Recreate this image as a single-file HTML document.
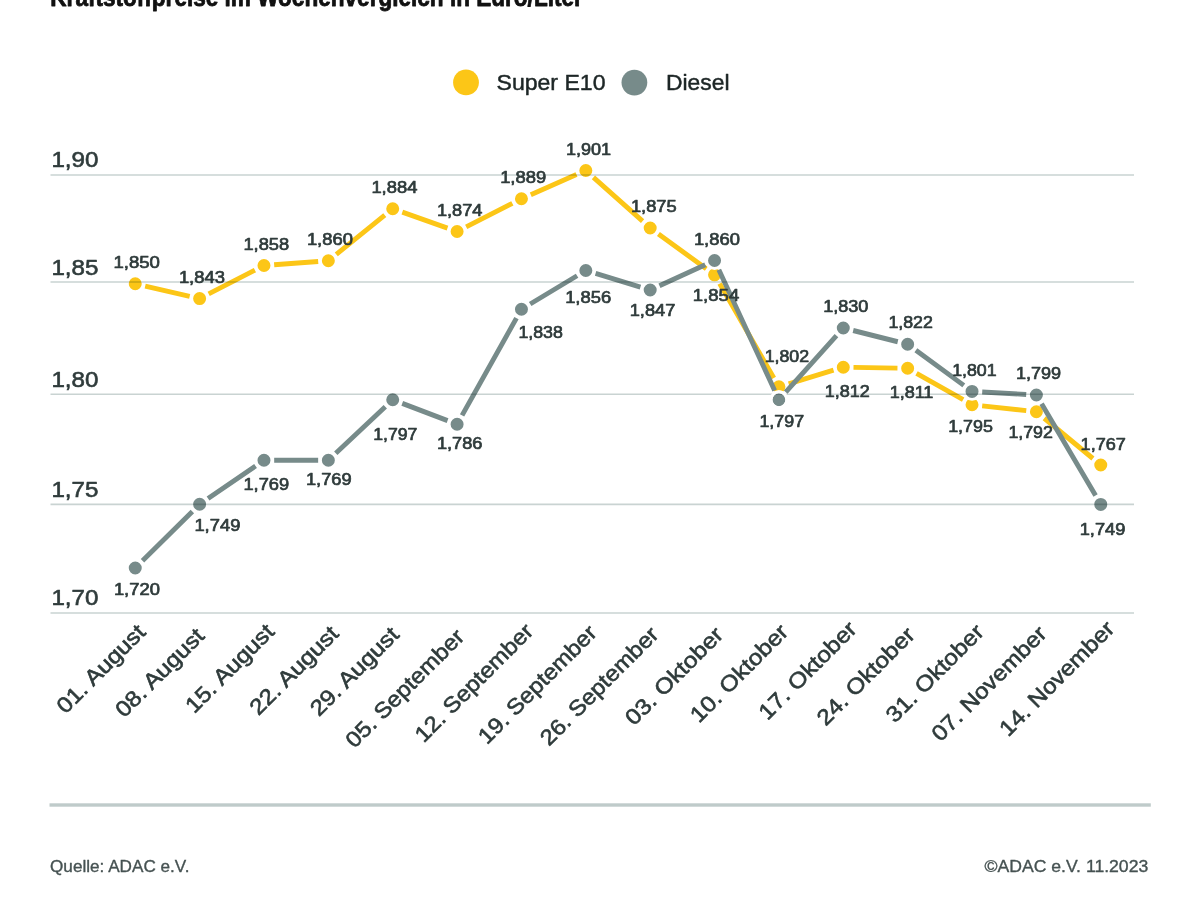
<!DOCTYPE html>
<html lang="de"><head><meta charset="utf-8"><title>Kraftstoffpreise im Wochenvergleich</title>
<style>html,body{margin:0;padding:0;background:#fff;}body{width:1200px;height:900px;overflow:hidden;}svg{display:block;}text{font-family:"Liberation Sans",sans-serif;stroke-linejoin:round;}.t{stroke:#2f3b3b;stroke-width:.6px}.d{stroke:#2f3b3b;stroke-width:.7px}.f{stroke:#465252;stroke-width:.35px}.l{stroke:#1d2626;stroke-width:.45px}</style></head><body>
<svg width="1200" height="900" viewBox="0 0 1200 900">
<rect width="1200" height="900" fill="#fff"/>
<text x="50.3" y="5.8" font-size="25" font-weight="bold" fill="#111" stroke="#111" stroke-width=".8" textLength="532.5" lengthAdjust="spacingAndGlyphs">Kraftstoffpreise im Wochenvergleich in Euro/Liter</text>
<circle cx="466" cy="82.4" r="12.9" fill="#fcc617"/>
<text class="l" x="496.5" y="89.7" font-size="21.7" fill="#1d2626" textLength="109" lengthAdjust="spacingAndGlyphs">Super E10</text>
<circle cx="634.4" cy="82.6" r="12.9" fill="#778b8a"/>
<text class="l" x="666" y="89.7" font-size="21.7" fill="#1d2626" textLength="63.5" lengthAdjust="spacingAndGlyphs">Diesel</text>
<text class="t" x="51.4" y="167" font-size="22" fill="#2f3b3b" textLength="47" lengthAdjust="spacingAndGlyphs">1,90</text>
<text class="t" x="51.4" y="274.5" font-size="22" fill="#2f3b3b" textLength="47" lengthAdjust="spacingAndGlyphs">1,85</text>
<text class="t" x="51.4" y="387.3" font-size="22" fill="#2f3b3b" textLength="47" lengthAdjust="spacingAndGlyphs">1,80</text>
<text class="t" x="51.4" y="497" font-size="22" fill="#2f3b3b" textLength="47" lengthAdjust="spacingAndGlyphs">1,75</text>
<text class="t" x="51.4" y="604.5" font-size="22" fill="#2f3b3b" textLength="47" lengthAdjust="spacingAndGlyphs">1,70</text>
<path d="M145.19 286.04L189.68 296.31M208.69 293.94L254.91 270.16M274.16 264.75L318.18 261.50M336.29 254.34L384.78 215.16M402.33 212.15L447.47 228.10M466.18 226.87L512.36 203.38M530.79 194.65L576.48 174.60M593.43 177.30L642.58 221.20M658.44 234.00L706.30 268.80M719.64 283.64L773.84 377.96M788.68 383.84L833.53 370.21M853.49 367.41L897.46 368.09M916.53 373.28L963.15 399.72M982.16 405.85L1026.25 410.65M1044.25 418.25L1092.90 458.50" fill="none" stroke="#fcc617" stroke-width="4.9" stroke-linecap="butt"/>
<circle cx="135.25" cy="283.75" r="7.95" fill="#fcc617" stroke="#fff" stroke-width="2.9"/>
<circle cx="199.62" cy="298.60" r="7.95" fill="#fcc617" stroke="#fff" stroke-width="2.9"/>
<circle cx="263.98" cy="265.50" r="7.95" fill="#fcc617" stroke="#fff" stroke-width="2.9"/>
<circle cx="328.35" cy="260.75" r="7.95" fill="#fcc617" stroke="#fff" stroke-width="2.9"/>
<circle cx="392.72" cy="208.75" r="7.95" fill="#fcc617" stroke="#fff" stroke-width="2.9"/>
<circle cx="457.09" cy="231.50" r="7.95" fill="#fcc617" stroke="#fff" stroke-width="2.9"/>
<circle cx="521.45" cy="198.75" r="7.95" fill="#fcc617" stroke="#fff" stroke-width="2.9"/>
<circle cx="585.82" cy="170.50" r="7.95" fill="#fcc617" stroke="#fff" stroke-width="2.9"/>
<circle cx="650.19" cy="228.00" r="7.95" fill="#fcc617" stroke="#fff" stroke-width="2.9"/>
<circle cx="714.55" cy="274.80" r="7.95" fill="#fcc617" stroke="#fff" stroke-width="2.9"/>
<circle cx="778.92" cy="386.80" r="7.95" fill="#fcc617" stroke="#fff" stroke-width="2.9"/>
<circle cx="843.29" cy="367.25" r="7.95" fill="#fcc617" stroke="#fff" stroke-width="2.9"/>
<circle cx="907.65" cy="368.25" r="7.95" fill="#fcc617" stroke="#fff" stroke-width="2.9"/>
<circle cx="972.02" cy="404.75" r="7.95" fill="#fcc617" stroke="#fff" stroke-width="2.9"/>
<circle cx="1036.39" cy="411.75" r="7.95" fill="#fcc617" stroke="#fff" stroke-width="2.9"/>
<circle cx="1100.76" cy="465.00" r="7.95" fill="#fcc617" stroke="#fff" stroke-width="2.9"/>
<path d="M142.50 560.82L192.37 511.43M208.04 498.49L255.56 466.01M274.18 460.25L318.15 460.25M335.78 453.26L385.29 406.74M402.25 403.38L447.55 420.62M462.07 415.35L516.47 318.15M530.19 303.99L577.08 275.76M595.58 273.46L640.42 287.04M659.46 285.75L705.28 264.75M718.83 269.76L774.64 390.49M785.73 392.16L836.48 335.59M853.18 330.50L897.76 341.75M915.88 350.28L963.79 385.37M982.21 391.97L1026.20 394.43M1041.56 403.79L1095.58 495.61" fill="none" stroke="#778b8a" stroke-width="4.9" stroke-linecap="butt"/>
<circle cx="135.25" cy="568.00" r="7.95" fill="#778b8a" stroke="#fff" stroke-width="2.9"/>
<circle cx="199.62" cy="504.25" r="7.95" fill="#778b8a" stroke="#fff" stroke-width="2.9"/>
<circle cx="263.98" cy="460.25" r="7.95" fill="#778b8a" stroke="#fff" stroke-width="2.9"/>
<circle cx="328.35" cy="460.25" r="7.95" fill="#778b8a" stroke="#fff" stroke-width="2.9"/>
<circle cx="392.72" cy="399.75" r="7.95" fill="#778b8a" stroke="#fff" stroke-width="2.9"/>
<circle cx="457.09" cy="424.25" r="7.95" fill="#778b8a" stroke="#fff" stroke-width="2.9"/>
<circle cx="521.45" cy="309.25" r="7.95" fill="#778b8a" stroke="#fff" stroke-width="2.9"/>
<circle cx="585.82" cy="270.50" r="7.95" fill="#778b8a" stroke="#fff" stroke-width="2.9"/>
<circle cx="650.19" cy="290.00" r="7.95" fill="#778b8a" stroke="#fff" stroke-width="2.9"/>
<circle cx="714.55" cy="260.50" r="7.95" fill="#778b8a" stroke="#fff" stroke-width="2.9"/>
<circle cx="778.92" cy="399.75" r="7.95" fill="#778b8a" stroke="#fff" stroke-width="2.9"/>
<circle cx="843.29" cy="328.00" r="7.95" fill="#778b8a" stroke="#fff" stroke-width="2.9"/>
<circle cx="907.65" cy="344.25" r="7.95" fill="#778b8a" stroke="#fff" stroke-width="2.9"/>
<circle cx="972.02" cy="391.40" r="7.95" fill="#778b8a" stroke="#fff" stroke-width="2.9"/>
<circle cx="1036.39" cy="395.00" r="7.95" fill="#778b8a" stroke="#fff" stroke-width="2.9"/>
<circle cx="1100.76" cy="504.40" r="7.95" fill="#778b8a" stroke="#fff" stroke-width="2.9"/>
<g style="mix-blend-mode:multiply">
<line x1="50.5" x2="1134" y1="175" y2="175" stroke="#c9d3d2" stroke-width="1.6"/>
<line x1="50.5" x2="1134" y1="282" y2="282" stroke="#c9d3d2" stroke-width="1.6"/>
<line x1="50.5" x2="1134" y1="394.3" y2="394.3" stroke="#c9d3d2" stroke-width="1.6"/>
<line x1="50.5" x2="1134" y1="504.4" y2="504.4" stroke="#c9d3d2" stroke-width="1.6"/>
<line x1="50.5" x2="1134" y1="613" y2="613" stroke="#c9d3d2" stroke-width="1.6"/>
</g>
<circle cx="778.92" cy="399.75" r="7.95" fill="none" stroke="#fff" stroke-width="2.9"/>
<text class="d" x="113.40" y="268" font-size="16.6" fill="#2f3b3b" textLength="46.50" lengthAdjust="spacingAndGlyphs">1,850</text>
<text class="d" x="178.90" y="282.5" font-size="16.6" fill="#2f3b3b" textLength="46.00" lengthAdjust="spacingAndGlyphs">1,843</text>
<text class="d" x="243.40" y="250" font-size="16.6" fill="#2f3b3b" textLength="45.75" lengthAdjust="spacingAndGlyphs">1,858</text>
<text class="d" x="306.90" y="245" font-size="16.6" fill="#2f3b3b" textLength="46.00" lengthAdjust="spacingAndGlyphs">1,860</text>
<text class="d" x="371.40" y="192.5" font-size="16.6" fill="#2f3b3b" textLength="46.00" lengthAdjust="spacingAndGlyphs">1,884</text>
<text class="d" x="436.90" y="215.75" font-size="16.6" fill="#2f3b3b" textLength="45.50" lengthAdjust="spacingAndGlyphs">1,874</text>
<text class="d" x="500.15" y="183" font-size="16.6" fill="#2f3b3b" textLength="46.00" lengthAdjust="spacingAndGlyphs">1,889</text>
<text class="d" x="565.90" y="155" font-size="16.6" fill="#2f3b3b" textLength="45.25" lengthAdjust="spacingAndGlyphs">1,901</text>
<text class="d" x="630.90" y="212" font-size="16.6" fill="#2f3b3b" textLength="45.75" lengthAdjust="spacingAndGlyphs">1,875</text>
<text class="d" x="693.90" y="244.5" font-size="16.6" fill="#2f3b3b" textLength="46.00" lengthAdjust="spacingAndGlyphs">1,860</text>
<text class="d" x="565.15" y="302.5" font-size="16.6" fill="#2f3b3b" textLength="46.00" lengthAdjust="spacingAndGlyphs">1,856</text>
<text class="d" x="629.65" y="315.5" font-size="16.6" fill="#2f3b3b" textLength="45.75" lengthAdjust="spacingAndGlyphs">1,847</text>
<text class="d" x="692.80" y="300.5" font-size="16.6" fill="#2f3b3b" textLength="46.40" lengthAdjust="spacingAndGlyphs">1,854</text>
<text class="d" x="518.40" y="338.25" font-size="16.6" fill="#2f3b3b" textLength="44.50" lengthAdjust="spacingAndGlyphs">1,838</text>
<text class="d" x="764.65" y="362" font-size="16.6" fill="#2f3b3b" textLength="44.50" lengthAdjust="spacingAndGlyphs">1,802</text>
<text class="d" x="759.40" y="427" font-size="16.6" fill="#2f3b3b" textLength="44.75" lengthAdjust="spacingAndGlyphs">1,797</text>
<text class="d" x="823.15" y="312" font-size="16.6" fill="#2f3b3b" textLength="45.25" lengthAdjust="spacingAndGlyphs">1,830</text>
<text class="d" x="824.65" y="397" font-size="16.6" fill="#2f3b3b" textLength="45.00" lengthAdjust="spacingAndGlyphs">1,812</text>
<text class="d" x="888.40" y="328.25" font-size="16.6" fill="#2f3b3b" textLength="44.50" lengthAdjust="spacingAndGlyphs">1,822</text>
<text class="d" x="889.65" y="398" font-size="16.6" fill="#2f3b3b" textLength="43.75" lengthAdjust="spacingAndGlyphs">1,811</text>
<text class="d" x="952.15" y="376.25" font-size="16.6" fill="#2f3b3b" textLength="44.50" lengthAdjust="spacingAndGlyphs">1,801</text>
<text class="d" x="1015.90" y="378.75" font-size="16.6" fill="#2f3b3b" textLength="45.25" lengthAdjust="spacingAndGlyphs">1,799</text>
<text class="d" x="948.15" y="431.75" font-size="16.6" fill="#2f3b3b" textLength="44.75" lengthAdjust="spacingAndGlyphs">1,795</text>
<text class="d" x="1008.40" y="438" font-size="16.6" fill="#2f3b3b" textLength="44.50" lengthAdjust="spacingAndGlyphs">1,792</text>
<text class="d" x="1080.60" y="449.6" font-size="16.6" fill="#2f3b3b" textLength="45.30" lengthAdjust="spacingAndGlyphs">1,767</text>
<text class="d" x="1079.70" y="534.7" font-size="16.6" fill="#2f3b3b" textLength="45.70" lengthAdjust="spacingAndGlyphs">1,749</text>
<text class="d" x="113.90" y="595" font-size="16.6" fill="#2f3b3b" textLength="46.00" lengthAdjust="spacingAndGlyphs">1,720</text>
<text class="d" x="194.40" y="530.5" font-size="16.6" fill="#2f3b3b" textLength="46.00" lengthAdjust="spacingAndGlyphs">1,749</text>
<text class="d" x="243.40" y="490" font-size="16.6" fill="#2f3b3b" textLength="45.75" lengthAdjust="spacingAndGlyphs">1,769</text>
<text class="d" x="305.90" y="484.5" font-size="16.6" fill="#2f3b3b" textLength="45.75" lengthAdjust="spacingAndGlyphs">1,769</text>
<text class="d" x="373.15" y="439.5" font-size="16.6" fill="#2f3b3b" textLength="44.25" lengthAdjust="spacingAndGlyphs">1,797</text>
<text class="d" x="436.90" y="448.75" font-size="16.6" fill="#2f3b3b" textLength="45.50" lengthAdjust="spacingAndGlyphs">1,786</text>
<text class="t" transform="translate(146.75,633.50) rotate(-45)" x="-115" y="0" font-size="22" fill="#2f3b3b" textLength="115" lengthAdjust="spacingAndGlyphs">01. August</text>
<text class="t" transform="translate(205.62,637.30) rotate(-45)" x="-115" y="0" font-size="22" fill="#2f3b3b" textLength="115" lengthAdjust="spacingAndGlyphs">08. August</text>
<text class="t" transform="translate(275.48,633.00) rotate(-45)" x="-115" y="0" font-size="22" fill="#2f3b3b" textLength="115" lengthAdjust="spacingAndGlyphs">15. August</text>
<text class="t" transform="translate(339.85,635.00) rotate(-45)" x="-115" y="0" font-size="22" fill="#2f3b3b" textLength="115" lengthAdjust="spacingAndGlyphs">22. August</text>
<text class="t" transform="translate(400.22,636.00) rotate(-45)" x="-115" y="0" font-size="22" fill="#2f3b3b" textLength="115" lengthAdjust="spacingAndGlyphs">29. August</text>
<text class="t" transform="translate(465.59,638.00) rotate(-45)" x="-157" y="0" font-size="22" fill="#2f3b3b" textLength="157" lengthAdjust="spacingAndGlyphs">05. September</text>
<text class="t" transform="translate(534.65,632.50) rotate(-45)" x="-157" y="0" font-size="22" fill="#2f3b3b" textLength="157" lengthAdjust="spacingAndGlyphs">12. September</text>
<text class="t" transform="translate(598.12,634.20) rotate(-45)" x="-157" y="0" font-size="22" fill="#2f3b3b" textLength="157" lengthAdjust="spacingAndGlyphs">19. September</text>
<text class="t" transform="translate(659.99,635.80) rotate(-45)" x="-157" y="0" font-size="22" fill="#2f3b3b" textLength="157" lengthAdjust="spacingAndGlyphs">26. September</text>
<text class="t" transform="translate(724.55,636.00) rotate(-45)" x="-128" y="0" font-size="22" fill="#2f3b3b" textLength="128" lengthAdjust="spacingAndGlyphs">03. Oktober</text>
<text class="t" transform="translate(789.62,633.30) rotate(-45)" x="-128" y="0" font-size="22" fill="#2f3b3b" textLength="128" lengthAdjust="spacingAndGlyphs">10. Oktober</text>
<text class="t" transform="translate(858.09,630.40) rotate(-45)" x="-128" y="0" font-size="22" fill="#2f3b3b" textLength="128" lengthAdjust="spacingAndGlyphs">17. Oktober</text>
<text class="t" transform="translate(916.15,636.20) rotate(-45)" x="-128" y="0" font-size="22" fill="#2f3b3b" textLength="128" lengthAdjust="spacingAndGlyphs">24. Oktober</text>
<text class="t" transform="translate(985.22,633.30) rotate(-45)" x="-128" y="0" font-size="22" fill="#2f3b3b" textLength="128" lengthAdjust="spacingAndGlyphs">31. Oktober</text>
<text class="t" transform="translate(1047.89,635.00) rotate(-45)" x="-152" y="0" font-size="22" fill="#2f3b3b" textLength="152" lengthAdjust="spacingAndGlyphs">07. November</text>
<text class="t" transform="translate(1115.76,630.00) rotate(-45)" x="-152" y="0" font-size="22" fill="#2f3b3b" textLength="152" lengthAdjust="spacingAndGlyphs">14. November</text>
<rect x="49.5" y="803.3" width="1101.3" height="3.4" fill="#bfcbca"/>
<text class="f" x="50" y="872" font-size="16.8" fill="#465252" textLength="139.5" lengthAdjust="spacingAndGlyphs">Quelle: ADAC e.V.</text>
<text class="f" x="984.5" y="872" font-size="16.8" fill="#465252" textLength="163.75" lengthAdjust="spacingAndGlyphs">©ADAC e.V. 11.2023</text>
</svg></body></html>
